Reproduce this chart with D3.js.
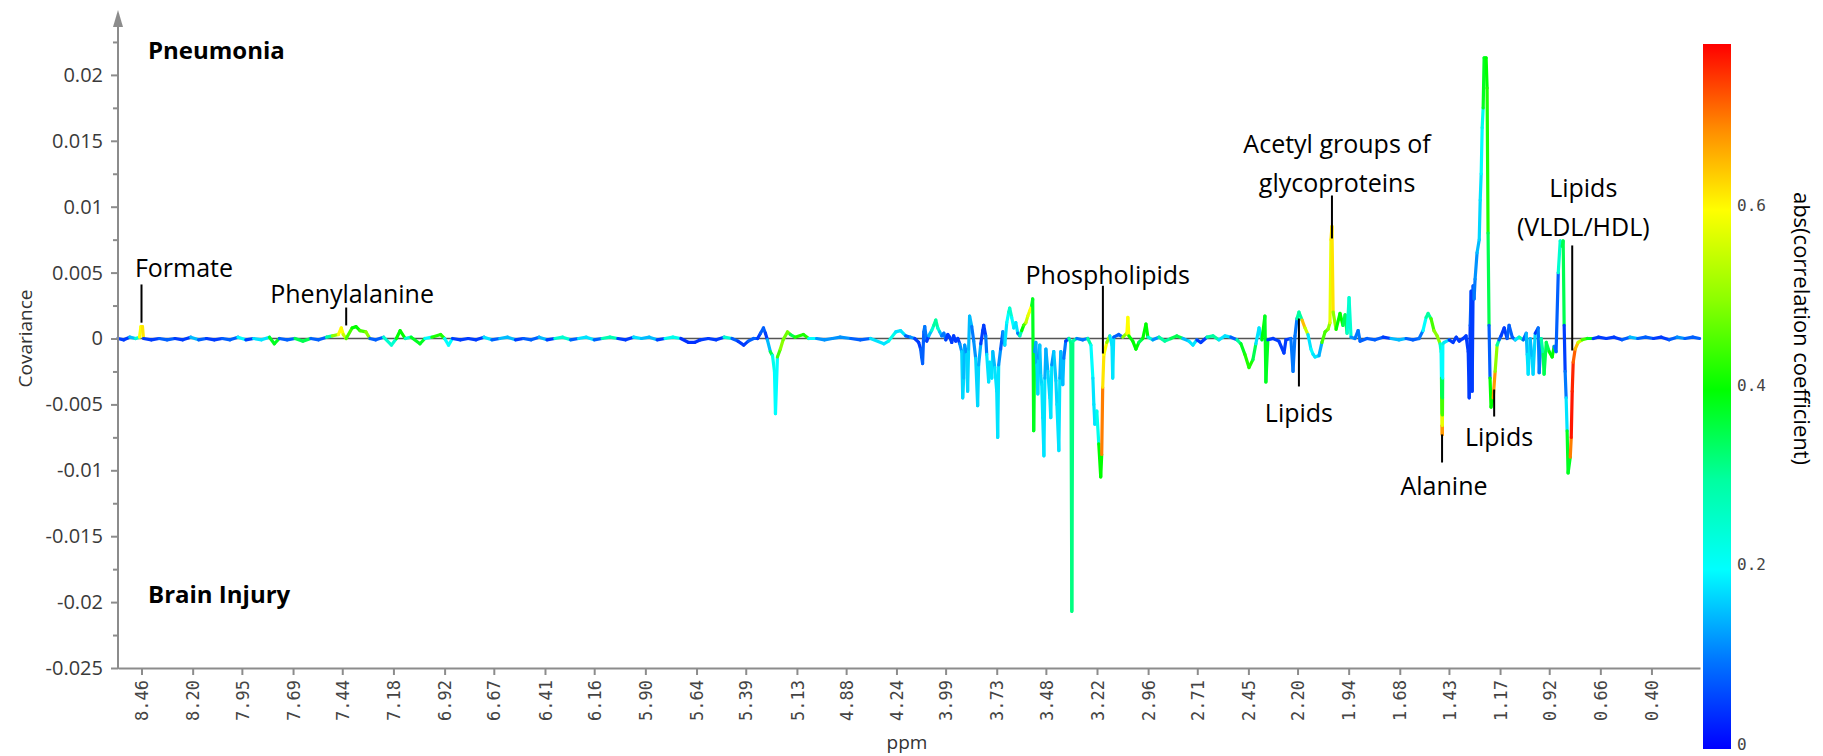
<!DOCTYPE html>
<html>
<head>
<meta charset="utf-8">
<script src="https://cdn.jsdelivr.net/npm/d3@7"></script>
<style>
  body { margin: 0; background: #fff; }
  text { font-family: "Open Sans", sans-serif; }
</style>
</head>
<body>
<div id="chart"></div>
<script>

// ppm tick labels (water region 4.88-4.24 is cut out of the spectrum)
const xTickLabels = ["8.46","8.20","7.95","7.69","7.44","7.18","6.92","6.67","6.41","6.16","5.90","5.64","5.39","5.13","4.88",
  "4.24","3.99","3.73","3.48","3.22","2.96","2.71","2.45","2.20","1.94","1.68","1.43","1.17","0.92","0.66","0.40"]
const yTickValues = [-0.025, -0.02, -0.015, -0.01, -0.005, 0, 0.005, 0.01, 0.015, 0.02]
const yMinorTicks = [-0.0225, -0.0175, -0.0125, -0.0075, -0.0025, 0.0025, 0.0075, 0.0125, 0.0175, 0.0225]
const colorTicks = [0, 0.2, 0.4, 0.6]
const corrMax = 0.785
const colorStops = [[0, "#0000ff"], [0.1, "#0078ff"], [0.2, "#00ffff"], [0.3, "#00ffa0"], [0.4, "#00ff00"],
  [0.5, "#8cff00"], [0.6, "#ffff00"], [0.69, "#ff8c00"], [corrMax, "#ff0000"]]

// spectrum points: [ppm, covariance, abs(r)]
const aromatic = [
  [8.58, 0.0000, 0.12], [8.55, -0.0001, 0.05], [8.52, 0.0001, 0.15], [8.49, 0.0000, 0.08], [8.47, 0.0001, 0.25],
  [8.463, 0.0009, 0.60], [8.455, 0.0009, 0.62], [8.45, 0.0000, 0.25], [8.41, -0.0001, 0.05], [8.37, 0.0000, 0.15],
  [8.33, -0.0001, 0.08], [8.29, 0.0000, 0.18], [8.25, -0.0001, 0.05], [8.21, 0.0001, 0.15], [8.17, -0.0001, 0.08],
  [8.13, 0.0000, 0.22], [8.09, -0.0001, 0.05], [8.05, 0.0000, 0.15], [8.01, -0.0001, 0.08], [7.97, 0.0001, 0.20],
  [7.93, -0.0001, 0.05], [7.89, 0.0000, 0.12], [7.85, -0.0001, 0.18], [7.81, 0.0001, 0.25], [7.785, -0.0004, 0.38],
  [7.76, 0.0000, 0.20], [7.72, -0.0001, 0.08], [7.68, 0.0000, 0.15], [7.64, -0.0002, 0.35], [7.60, 0.0000, 0.12],
  [7.56, -0.0001, 0.08], [7.52, 0.0001, 0.22], [7.49, 0.0002, 0.30], [7.46, 0.0003, 0.50], [7.445, 0.0008, 0.60],
  [7.435, 0.0003, 0.55], [7.42, 0.0000, 0.25], [7.39, 0.0008, 0.45], [7.37, 0.0009, 0.40], [7.35, 0.0006, 0.45],
  [7.32, 0.0005, 0.50], [7.30, 0.0000, 0.20], [7.27, -0.0001, 0.08], [7.23, 0.0001, 0.15], [7.19, -0.0005, 0.25],
  [7.165, 0.0000, 0.18], [7.146, 0.0006, 0.40], [7.12, 0.0000, 0.12], [7.09, 0.0001, 0.25], [7.045, -0.0004, 0.38],
  [7.02, 0.0000, 0.12], [6.985, 0.0001, 0.20], [6.94, 0.0003, 0.42], [6.92, 0.0000, 0.20], [6.90, -0.0005, 0.20],
  [6.88, 0.0000, 0.10]
]

const sugarRegion = [
  [6.84, -0.0001, 0.05], [6.80, 0.0000, 0.15], [6.76, -0.0001, 0.05], [6.72, 0.0001, 0.18], [6.68, -0.0001, 0.08],
  [6.64, 0.0000, 0.05], [6.60, 0.0001, 0.15], [6.56, -0.0001, 0.05], [6.52, 0.0000, 0.20], [6.48, -0.0001, 0.08],
  [6.44, 0.0001, 0.15], [6.40, -0.0001, 0.05], [6.36, 0.0000, 0.12], [6.32, 0.0001, 0.25], [6.28, -0.0001, 0.08],
  [6.24, 0.0000, 0.05], [6.20, 0.0001, 0.18], [6.16, -0.0001, 0.08], [6.12, 0.0000, 0.22], [6.08, 0.0001, 0.28],
  [6.04, 0.0000, 0.12], [6.00, -0.0001, 0.05], [5.96, 0.0001, 0.18], [5.92, 0.0000, 0.08], [5.88, 0.0001, 0.15],
  [5.84, -0.0001, 0.05], [5.80, 0.0000, 0.12], [5.76, 0.0001, 0.22], [5.72, 0.0000, 0.05], [5.68, -0.0003, 0.04],
  [5.65, -0.0003, 0.04], [5.62, -0.0001, 0.05], [5.58, 0.0000, 0.12], [5.54, -0.0001, 0.05], [5.50, 0.0001, 0.25],
  [5.46, 0.0000, 0.10], [5.43, -0.0002, 0.08], [5.40, -0.0005, 0.05], [5.377, -0.0002, 0.08], [5.35, 0.0000, 0.08],
  [5.33, 0.0000, 0.05], [5.315, 0.0004, 0.05], [5.30, 0.0008, 0.08], [5.29, 0.0004, 0.05], [5.28, -0.0001, 0.05],
  [5.265, -0.0010, 0.15], [5.254, -0.0013, 0.35], [5.244, -0.0025, 0.22], [5.239, -0.0057, 0.20], [5.229, -0.0014, 0.45],
  [5.214, -0.0008, 0.50], [5.20, -0.0001, 0.40], [5.178, 0.0005, 0.48], [5.163, 0.0003, 0.35], [5.14, 0.0001, 0.25],
  [5.097, 0.0003, 0.42], [5.07, 0.0000, 0.20], [5.03, 0.0000, 0.08], [4.99, -0.0001, 0.12], [4.95, 0.0000, 0.05],
  [4.91, 0.0001, 0.12], [4.82, 0.0000, 0.08], [4.70, -0.0001, 0.08], [4.57, 0.0000, 0.08], [4.40, -0.0004, 0.18],
  [4.34, -0.0002, 0.18], [4.25, 0.0005, 0.22], [4.219, 0.0006, 0.18], [4.193, 0.0002, 0.08], [4.168, 0.0001, 0.12]
]

const midRegion = [
  [4.147, 0.0000, 0.05], [4.127, -0.0003, 0.05], [4.117, -0.0008, 0.05], [4.112, -0.0014, 0.08], [4.107, -0.0019, 0.08],
  [4.101, 0.0005, 0.08], [4.096, 0.0009, 0.10], [4.086, -0.0002, 0.05], [4.076, 0.0002, 0.08], [4.061, 0.0006, 0.15],
  [4.050, 0.0010, 0.25], [4.040, 0.0014, 0.30], [4.030, 0.0008, 0.25], [4.020, 0.0005, 0.15], [4.010, 0.0002, 0.10],
  [3.999, 0.0004, 0.10], [3.989, -0.0001, 0.05], [3.979, 0.0003, 0.05], [3.969, 0.0001, 0.10], [3.959, -0.0003, 0.05],
  [3.949, 0.0002, 0.05], [3.939, -0.0002, 0.05], [3.928, 0.0000, 0.05], [3.918, -0.0004, 0.05], [3.908, -0.0010, 0.12],
  [3.903, -0.0045, 0.17], [3.898, -0.0030, 0.15], [3.893, -0.0005, 0.08], [3.883, -0.0012, 0.12], [3.878, -0.0040, 0.17],
  [3.873, -0.0008, 0.10], [3.868, 0.0017, 0.15], [3.857, 0.0009, 0.10], [3.847, -0.0002, 0.05], [3.837, -0.0015, 0.12],
  [3.827, -0.0051, 0.17], [3.822, -0.0020, 0.14], [3.811, -0.0004, 0.05], [3.801, 0.0006, 0.05], [3.796, 0.0010, 0.05],
  [3.786, 0.0002, 0.05], [3.781, -0.0012, 0.10], [3.771, -0.0033, 0.18], [3.766, -0.0018, 0.14], [3.755, -0.0030, 0.18],
  [3.750, -0.0010, 0.10], [3.740, -0.0022, 0.15], [3.730, -0.0040, 0.18], [3.725, -0.0075, 0.18], [3.720, -0.0020, 0.12],
  [3.710, -0.0008, 0.08], [3.699, 0.0005, 0.12], [3.689, -0.0005, 0.08], [3.679, 0.0012, 0.18], [3.669, 0.0020, 0.20],
  [3.664, 0.0023, 0.25], [3.654, 0.0016, 0.20], [3.643, 0.0008, 0.14], [3.633, 0.0012, 0.18], [3.623, 0.0004, 0.10],
  [3.613, 0.0002, 0.14], [3.603, 0.0006, 0.28], [3.593, 0.0010, 0.40], [3.582, 0.0012, 0.45], [3.572, 0.0017, 0.55],
  [3.562, 0.0021, 0.58], [3.552, 0.0025, 0.60], [3.547, 0.0030, 0.38], [3.542, -0.0070, 0.38], [3.537, -0.0010, 0.12],
  [3.531, -0.0003, 0.08], [3.526, -0.0020, 0.14], [3.521, -0.0042, 0.17], [3.516, -0.0015, 0.12], [3.511, -0.0005, 0.08],
  [3.506, -0.0028, 0.16], [3.501, -0.0035, 0.17], [3.496, -0.0060, 0.18], [3.490, -0.0089, 0.18], [3.485, -0.0030, 0.14],
  [3.480, -0.0008, 0.10], [3.470, -0.0025, 0.14], [3.460, -0.0045, 0.17], [3.455, -0.0060, 0.18], [3.450, -0.0020, 0.12],
  [3.440, -0.0010, 0.10], [3.429, -0.0032, 0.16], [3.424, -0.0050, 0.17], [3.414, -0.0085, 0.18], [3.409, -0.0030, 0.14],
  [3.404, -0.0010, 0.10], [3.394, -0.0035, 0.15], [3.389, -0.0015, 0.10], [3.379, -0.0002, 0.05], [3.363, 0.0000, 0.05],
  [3.353, -0.0003, 0.30], [3.348, -0.0207, 0.32], [3.343, -0.0002, 0.30], [3.323, 0.0000, 0.05], [3.292, -0.0001, 0.10],
  [3.267, 0.0000, 0.05], [3.251, -0.0005, 0.30], [3.241, -0.0030, 0.20], [3.236, -0.0050, 0.18], [3.231, -0.0065, 0.18],
  [3.221, -0.0055, 0.20], [3.211, -0.0080, 0.22], [3.201, -0.0105, 0.40], [3.196, -0.0088, 0.70], [3.191, -0.0037, 0.62],
  [3.185, -0.0012, 0.60], [3.170, -0.0003, 0.50], [3.155, 0.0002, 0.40], [3.144, -0.0005, 0.18], [3.140, -0.0030, 0.18],
  [3.135, 0.0001, 0.12], [3.109, 0.0003, 0.08], [3.089, 0.0001, 0.18], [3.068, 0.0004, 0.50], [3.063, 0.0016, 0.60],
  [3.058, 0.0002, 0.40], [3.038, -0.0002, 0.35], [3.022, -0.0008, 0.40]
]

const aliphatic = [
  [3.007, -0.0003, 0.35], [2.987, 0.0000, 0.25], [2.971, 0.0011, 0.40], [2.961, 0.0001, 0.25], [2.936, -0.0001, 0.12],
  [2.905, 0.0001, 0.25], [2.875, -0.0002, 0.30], [2.844, 0.0000, 0.15], [2.814, 0.0002, 0.35], [2.783, 0.0000, 0.18],
  [2.753, -0.0002, 0.15], [2.732, -0.0005, 0.18], [2.712, -0.0001, 0.08], [2.692, -0.0003, 0.05], [2.661, 0.0001, 0.25],
  [2.630, 0.0002, 0.30], [2.600, -0.0001, 0.12], [2.569, 0.0002, 0.18], [2.539, 0.0001, 0.08], [2.508, -0.0001, 0.05],
  [2.488, -0.0004, 0.30], [2.468, -0.0012, 0.38], [2.447, -0.0022, 0.42], [2.427, -0.0016, 0.35], [2.412, -0.0004, 0.18],
  [2.396, 0.0008, 0.18], [2.381, -0.0001, 0.08], [2.366, 0.0017, 0.40], [2.361, -0.0033, 0.38], [2.351, -0.0001, 0.05],
  [2.325, 0.0000, 0.05], [2.295, -0.0002, 0.05], [2.269, -0.0011, 0.05], [2.259, -0.0001, 0.05], [2.234, 0.0000, 0.05],
  [2.223, -0.0025, 0.10], [2.213, 0.0002, 0.10], [2.203, 0.0015, 0.10], [2.193, 0.0020, 0.30], [2.177, 0.0014, 0.65],
  [2.162, 0.0008, 0.55], [2.147, 0.0003, 0.40], [2.132, -0.0008, 0.18], [2.121, -0.0012, 0.20], [2.111, -0.0014, 0.18],
  [2.091, -0.0013, 0.14], [2.076, -0.0003, 0.30], [2.060, 0.0005, 0.45], [2.045, 0.0007, 0.45], [2.035, 0.0012, 0.50],
  [2.030, 0.0075, 0.58], [2.025, 0.0085, 0.62], [2.019, 0.0020, 0.50], [2.004, 0.0007, 0.45], [1.984, 0.0019, 0.40],
  [1.969, 0.0010, 0.35], [1.958, 0.0018, 0.35], [1.948, 0.0004, 0.30], [1.938, 0.0031, 0.25], [1.928, 0.0001, 0.12],
  [1.908, 0.0000, 0.05], [1.892, 0.0006, 0.10], [1.882, -0.0002, 0.08], [1.847, 0.0000, 0.05], [1.806, -0.0001, 0.08],
  [1.765, 0.0001, 0.05], [1.725, 0.0000, 0.08], [1.684, -0.0001, 0.15], [1.648, 0.0000, 0.05], [1.613, -0.0001, 0.08],
  [1.582, 0.0000, 0.05], [1.562, 0.0006, 0.10], [1.546, 0.0016, 0.20], [1.536, 0.0019, 0.30], [1.521, 0.0015, 0.45],
  [1.506, 0.0006, 0.50], [1.490, 0.0002, 0.45], [1.475, -0.0004, 0.50], [1.470, -0.0010, 0.25], [1.468, -0.0030, 0.20],
  [1.467, -0.0045, 0.35], [1.466, -0.0058, 0.45], [1.465, -0.0066, 0.58], [1.464, -0.0073, 0.68], [1.4635, -0.0066, 0.58],
  [1.463, -0.0058, 0.45], [1.4625, -0.0045, 0.35], [1.462, -0.0030, 0.20], [1.461, -0.0004, 0.25], [1.455, -0.0003, 0.18],
  [1.429, -0.0001, 0.05], [1.409, -0.0003, 0.05], [1.393, 0.0001, 0.05], [1.378, -0.0002, 0.05], [1.358, 0.0000, 0.08],
  [1.343, 0.0002, 0.05], [1.332, -0.0010, 0.05], [1.327, -0.0045, 0.05], [1.322, 0.0010, 0.05], [1.317, 0.0036, 0.08],
  [1.312, -0.0040, 0.05], [1.307, 0.0040, 0.08], [1.302, 0.0030, 0.06], [1.297, 0.0045, 0.10], [1.287, 0.0065, 0.12],
  [1.276, 0.0075, 0.15], [1.271, 0.0105, 0.17], [1.266, 0.0125, 0.18], [1.261, 0.0160, 0.20], [1.256, 0.0175, 0.22],
  [1.251, 0.0213, 0.38], [1.241, 0.0213, 0.40], [1.236, 0.0190, 0.42], [1.231, 0.0080, 0.35], [1.226, 0.0010, 0.18],
  [1.221, -0.0030, 0.08], [1.216, -0.0052, 0.40], [1.205, -0.0045, 0.68], [1.195, -0.0025, 0.50], [1.185, -0.0005, 0.30],
  [1.175, -0.0001, 0.18], [1.165, 0.0002, 0.08], [1.149, 0.0008, 0.05], [1.134, 0.0000, 0.05], [1.124, 0.0010, 0.08],
  [1.108, 0.0001, 0.08], [1.093, -0.0001, 0.18], [1.073, 0.0001, 0.28], [1.052, -0.0001, 0.18], [1.037, 0.0004, 0.08],
  [1.032, -0.0012, 0.15], [1.027, -0.0027, 0.18], [1.017, 0.0000, 0.08], [1.007, -0.0015, 0.15], [1.002, -0.0027, 0.17],
  [0.991, 0.0004, 0.05], [0.976, 0.0008, 0.05], [0.971, -0.0026, 0.10], [0.961, 0.0000, 0.18], [0.951, -0.0012, 0.30],
  [0.946, -0.0027, 0.35], [0.935, -0.0003, 0.30], [0.920, -0.0010, 0.35], [0.905, -0.0014, 0.40], [0.895, -0.0006, 0.30],
  [0.885, -0.0010, 0.10], [0.874, 0.0050, 0.08], [0.864, 0.0074, 0.25], [0.854, 0.0070, 0.30], [0.849, 0.0074, 0.35],
  [0.844, 0.0010, 0.08], [0.839, -0.0025, 0.05], [0.834, -0.0045, 0.10], [0.829, -0.0070, 0.18], [0.824, -0.0102, 0.38],
  [0.813, -0.0090, 0.70], [0.808, -0.0075, 0.77], [0.803, -0.0040, 0.76], [0.798, -0.0018, 0.72], [0.788, -0.0008, 0.65],
  [0.773, -0.0003, 0.55], [0.752, -0.0001, 0.45], [0.727, 0.0000, 0.38], [0.696, 0.0000, 0.08], [0.67, 0.0001, 0.05],
  [0.63, 0.0000, 0.12], [0.59, 0.0001, 0.05], [0.55, -0.0001, 0.08], [0.51, 0.0001, 0.15], [0.47, 0.0000, 0.05],
  [0.43, 0.0001, 0.08], [0.39, 0.0000, 0.15], [0.35, 0.0001, 0.05], [0.31, -0.0001, 0.08], [0.27, 0.0001, 0.12],
  [0.23, 0.0000, 0.05], [0.19, 0.0001, 0.08], [0.155, 0.0000, 0.08]
]

// peak assignments: leader line at ppm from/to covariance, label above or below
const annotations = [
  { lines: ["Formate"], ppm: 8.46, from: 0.0041, to: 0.0012, textPpm: 8.244, textCov: 0.00463 },
  { lines: ["Phenylalanine"], ppm: 7.42, from: 0.00235, to: 0.00099, textPpm: 7.39, textCov: 0.00266 },
  { lines: ["Phospholipids"], ppm: 3.19, from: 0.0040, to: -0.00114, textPpm: 3.165, textCov: 0.00417 },
  { lines: ["Acetyl groups of", "glycoproteins"], ppm: 2.025, from: 0.01085, to: 0.00759, textPpm: 1.999, textCov: 0.01411 },
  { lines: ["Lipids"], ppm: 2.193, from: 0.00152, to: -0.00364, textPpm: 2.193, textCov: -0.0063 },
  { lines: ["Alanine"], ppm: 1.465, from: -0.00728, to: -0.00941, textPpm: 1.455, textCov: -0.01191 },
  { lines: ["Lipids"], ppm: 1.200, from: -0.00387, to: -0.00592, textPpm: 1.175, textCov: -0.00812 },
  { lines: ["Lipids", "(VLDL/HDL)"], ppm: 0.803, from: 0.00706, to: -0.00091, textPpm: 0.747, textCov: 0.0107 }
]

;(function () {

  const width = 1823
  const height = 756
  const plot = { left: 118, right: 1700, top: 9, bottom: 668 }
  const axisColor = "#8c8c8c"

  const svg = d3.select("#chart").append("svg")
    .attr("width", width)
    .attr("height", height)

  // Piecewise ppm scale, one tick gap stands in for the removed water region
  const tickGap = 50.33
  const firstTick = 141.5
  const ppmStep = 0.2557
  const lastTick = firstTick + 30 * tickGap
  const xScale = d3.scaleLinear()
    .domain([8.46 + (firstTick - plot.left) / tickGap * ppmStep, 4.88, 4.24,
      0.40 - (plot.right - lastTick) / tickGap * ppmStep])
    .range([plot.left, firstTick + 14 * tickGap, firstTick + 15 * tickGap, plot.right])

  const yScale = d3.scaleLinear()
    .domain([-0.025, 0.025])
    .range([plot.bottom, plot.top])

  const colorScale = d3.scaleLinear()
    .domain(colorStops.map(d => d[0]))
    .range(colorStops.map(d => d[1]))
    .clamp(true)

  // Zero line
  svg.append("line")
    .attr("x1", plot.left).attr("x2", plot.right)
    .attr("y1", yScale(0)).attr("y2", yScale(0))
    .attr("stroke", "#555").attr("stroke-width", 1.3)

  // Spectrum, each segment coloured by the point farther from zero
  const spectrum = [].concat(aromatic, sugarRegion, midRegion, aliphatic)
  svg.append("g")
    .selectAll("line")
    .data(d3.pairs(spectrum))
    .join("line")
    .attr("x1", d => xScale(d[0][0]))
    .attr("y1", d => yScale(d[0][1]))
    .attr("x2", d => xScale(d[1][0]))
    .attr("y2", d => yScale(d[1][1]))
    .attr("stroke", d => colorScale(Math.abs(d[0][1]) >= Math.abs(d[1][1]) ? d[0][2] : d[1][2]))
    .attr("stroke-width", 3.2)
    .attr("stroke-linecap", "round")

  // X axis
  const xAxis = svg.append("g")
    .attr("transform", "translate(0," + plot.bottom + ")")
    .call(d3.axisBottom(xScale)
      .tickValues(xTickLabels.map(Number))
      .tickFormat((d, i) => xTickLabels[i])
      .tickSize(7)
      .tickSizeOuter(0))
  xAxis.select(".domain").attr("stroke", axisColor).attr("stroke-width", 2)
  xAxis.selectAll(".tick line").attr("stroke", axisColor).attr("stroke-width", 2)
  xAxis.selectAll(".tick text")
    .attr("transform", "rotate(-90)")
    .attr("text-anchor", "end")
    .attr("x", -12)
    .attr("y", 0)
    .attr("dy", "0.36em")
    .attr("fill", "#444")
    .style("font-family", "'DejaVu Sans Mono', monospace")
    .style("font-size", "17px")

  // Y axis, major and minor ticks
  const yAxis = svg.append("g")
    .attr("transform", "translate(" + plot.left + ",0)")
    .call(d3.axisLeft(yScale)
      .tickValues(yTickValues)
      .tickFormat(d => String(+d.toFixed(3)))
      .tickSize(7))
  yAxis.select(".domain").remove()
  yAxis.selectAll(".tick line").attr("stroke", axisColor).attr("stroke-width", 2)
  yAxis.selectAll(".tick text")
    .attr("x", -15)
    .attr("fill", "#3a3a3a")
    .style("font-size", "20px")

  const yMinor = svg.append("g")
    .attr("transform", "translate(" + plot.left + ",0)")
    .call(d3.axisLeft(yScale).tickValues(yMinorTicks).tickFormat("").tickSize(5))
  yMinor.select(".domain").remove()
  yMinor.selectAll(".tick line").attr("stroke", axisColor).attr("stroke-width", 2)

  svg.append("line")
    .attr("x1", plot.left).attr("x2", plot.left)
    .attr("y1", plot.bottom + 1).attr("y2", plot.top + 14)
    .attr("stroke", axisColor).attr("stroke-width", 2)
  svg.append("path")
    .attr("d", d3.line()([[plot.left, plot.top + 1], [plot.left - 5, plot.top + 18], [plot.left + 5, plot.top + 18]]) + "Z")
    .attr("fill", axisColor)

  // Axis titles
  svg.append("text")
    .attr("transform", "translate(25," + yScale(0) + ") rotate(-90)")
    .attr("text-anchor", "middle")
    .attr("dy", "0.35em")
    .style("font-size", "19px")
    .attr("fill", "#333")
    .text("Covariance")

  svg.append("text")
    .attr("x", 907)
    .attr("y", 749)
    .attr("text-anchor", "middle")
    .style("font-size", "19px")
    .attr("fill", "#333")
    .text("ppm")

  // Group labels
  svg.append("text")
    .attr("x", 148).attr("y", 59)
    .style("font-size", "24px").style("font-weight", "bold")
    .text("Pneumonia")
  svg.append("text")
    .attr("x", 148).attr("y", 603)
    .style("font-size", "24px").style("font-weight", "bold")
    .text("Brain Injury")

  // Peak annotations
  const notes = svg.append("g")
  notes.selectAll("line")
    .data(annotations)
    .join("line")
    .attr("x1", d => xScale(d.ppm)).attr("x2", d => xScale(d.ppm))
    .attr("y1", d => yScale(d.from)).attr("y2", d => yScale(d.to))
    .attr("stroke", "#000").attr("stroke-width", 2)

  notes.selectAll("text")
    .data(annotations)
    .join("text")
    .attr("text-anchor", "middle")
    .attr("x", d => xScale(d.textPpm))
    .attr("y", d => yScale(d.textCov))
    .style("font-size", "25px")
    .selectAll("tspan")
    .data(d => d.lines.map(line => ({ line, ppm: d.textPpm })))
    .join("tspan")
    .attr("x", d => xScale(d.ppm))
    .attr("dy", (d, i) => i === 0 ? 0 : 39)
    .text(d => d.line)

  // Colour bar
  const cbar = { x: 1703, width: 28, top: 44, bottom: 749 }
  const cbarScale = d3.scaleLinear().domain([0, corrMax]).range([cbar.bottom, cbar.top])

  const gradient = svg.append("defs").append("linearGradient")
    .attr("id", "corr-gradient")
    .attr("x1", 0).attr("y1", 1).attr("x2", 0).attr("y2", 0)
  gradient.selectAll("stop")
    .data(colorStops)
    .join("stop")
    .attr("offset", d => d[0] / corrMax)
    .attr("stop-color", d => d[1])

  svg.append("rect")
    .attr("x", cbar.x).attr("y", cbar.top)
    .attr("width", cbar.width).attr("height", cbar.bottom - cbar.top)
    .attr("fill", "url(#corr-gradient)")

  svg.append("g")
    .selectAll("text")
    .data(colorTicks)
    .join("text")
    .attr("x", cbar.x + cbar.width + 6)
    .attr("y", d => cbarScale(d) - 5)
    .attr("dy", "0.36em")
    .attr("fill", "#444")
    .style("font-family", "'DejaVu Sans Mono', monospace")
    .style("font-size", "16px")
    .text(d => d === 0 ? "0" : d.toFixed(1))

  svg.append("text")
    .attr("transform", "translate(1802," + ((cbar.top + cbar.bottom) / 2 - 68) + ") rotate(90)")
    .attr("text-anchor", "middle")
    .attr("dy", "0.35em")
    .style("font-size", "22px")
    .text("abs(correlation coefficient)")

})();
</script>
</body>
</html>
